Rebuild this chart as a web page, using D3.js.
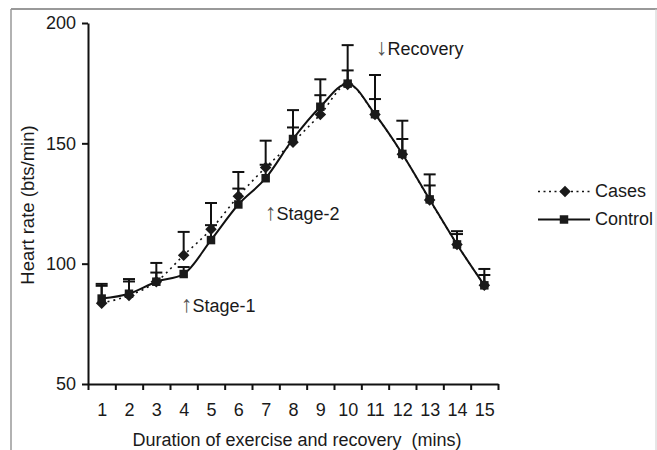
<!DOCTYPE html>
<html lang="en">
<head>
  <meta charset="UTF-8">
  <title>Heart rate during exercise and recovery</title>
  <style>
    body { margin: 0; background: #fff; }
    svg text { font-family: "Liberation Sans", Arial, sans-serif; font-size: 18px; fill: #1a1a1a; white-space: pre; }
    .axis path, .axis line { stroke: #111; stroke-width: 2px; }
    .arrow { font-size: 23px; fill: #555; }
  </style>
</head>
<body>
  <div id="chart"></div>

  <script src="https://d3js.org/d3.v7.min.js"></script>
  <script>
    // values
    const minutes = [1, 2, 3, 4, 5, 6, 7, 8, 9, 10, 11, 12, 13, 14, 15];
    const casesMean = [83.6, 86.8, 92.5, 103.5, 114.3, 128, 140, 150.5, 162, 174.5, 162, 145.5, 126.5, 108, 91];
    const casesSd = [8, 6.8, 7.8, 9.7, 10.9, 10.1, 11.1, 13.3, 14.6, 16.3, 16.4, 13.9, 10.6, 5.5, 6.8];
    const controlMean = [85.5, 87.5, 92.5, 95.7, 109.8, 124.6, 135.5, 151.8, 165.2, 174.8, 162.1, 145.6, 126.7, 108, 91];
    const controlSd = [5.3, 5.1, 3.8, 2.9, 6.2, 6.6, 5.6, 4.8, 4.8, 5.5, 6.3, 6.2, 5.8, 4.3, 4.3];
    const yTicks = [50, 100, 150, 200];
    const seriesNames = ["Cases", "Control"];

    const width = 657, height = 450;

    const svg = d3.select('#chart')
      .append('svg')
      .attr('width', width)
      .attr('height', height);

    // frame
    svg.append('line').attr('x1', 11).attr('x2', 657).attr('y1', 9).attr('y2', 9)
      .attr('stroke', '#777').attr('stroke-width', 1.5);
    svg.append('line').attr('x1', 11).attr('x2', 11).attr('y1', 9).attr('y2', 450)
      .attr('stroke', '#999').attr('stroke-width', 1.5);
    svg.append('line').attr('x1', 656).attr('x2', 656).attr('y1', 9).attr('y2', 450)
      .attr('stroke', '#ccc').attr('stroke-width', 1);

    const x = d3.scaleLinear().domain([0.5, 15.5]).range([88, 498]);
    const y = d3.scaleLinear().domain([50, 200]).range([384, 23]);

    const cases = minutes.map((m, i) => ({ m, v: casesMean[i], sd: casesSd[i] }));
    const control = minutes.map((m, i) => ({ m, v: controlMean[i], sd: controlSd[i] }));

    // axes
    svg.append('g')
      .attr('class', 'axis')
      .attr('transform', 'translate(88,0)')
      .call(d3.axisLeft(y).tickValues(yTicks).tickSize(6).tickSizeOuter(0).tickPadding(6))
      .selectAll('text').style('font-size', '18px');

    const boundaries = d3.range(0.5, 16, 1);
    svg.append('g')
      .attr('class', 'axis')
      .attr('transform', 'translate(0,384)')
      .call(d3.axisBottom(x).tickValues(boundaries).tickSize(6).tickSizeOuter(0).tickFormat(''));

    const xLabels = svg.append('g')
      .attr('transform', 'translate(0,384)')
      .call(d3.axisBottom(x).tickValues(minutes).tickSize(0).tickPadding(19).tickFormat(d3.format('d')));
    xLabels.select('.domain').remove();
    xLabels.selectAll('text').style('font-size', '18px').attr('fill', '#1a1a1a');

    svg.append('text')
      .attr('x', 297)
      .attr('y', 446)
      .attr('text-anchor', 'middle')
      .text('Duration of exercise and recovery  (mins)');

    svg.append('text')
      .attr('transform', 'translate(34,205) rotate(-90)')
      .attr('text-anchor', 'middle')
      .style('font-size', '18.5px')
      .text('Heart rate (bts/min)');

    // error bars (upper only)
    function errorBars(data) {
      const g = svg.append('g').attr('stroke', '#111').attr('stroke-width', 2);
      g.selectAll('line.v').data(data).join('line')
        .attr('x1', d => x(d.m)).attr('x2', d => x(d.m))
        .attr('y1', d => y(d.v)).attr('y2', d => y(d.v + d.sd));
      g.selectAll('line.c').data(data).join('line')
        .attr('x1', d => x(d.m) - 6).attr('x2', d => x(d.m) + 6)
        .attr('y1', d => y(d.v + d.sd)).attr('y2', d => y(d.v + d.sd));
    }
    errorBars(cases);
    errorBars(control);

    const line = d3.line().x(d => x(d.m)).y(d => y(d.v)).curve(d3.curveMonotoneX);

    svg.append('path').datum(cases)
      .attr('d', line)
      .attr('fill', 'none')
      .attr('stroke', '#111')
      .attr('stroke-width', 1.6)
      .attr('stroke-dasharray', '2,4');

    svg.append('path').datum(control)
      .attr('d', line)
      .attr('fill', 'none')
      .attr('stroke', '#111')
      .attr('stroke-width', 2);

    const diamond = d3.symbol().type(d3.symbolDiamond2).size(85);
    const square = d3.symbol().type(d3.symbolSquare).size(72);

    svg.selectAll('.diamond').data(cases).join('path')
      .attr('class', 'diamond')
      .attr('d', diamond)
      .attr('transform', d => `translate(${x(d.m)},${y(d.v)})`)
      .attr('fill', '#1a1a1a');

    svg.selectAll('.square').data(control).join('path')
      .attr('class', 'square')
      .attr('d', square)
      .attr('transform', d => `translate(${x(d.m)},${y(d.v)})`)
      .attr('fill', '#1a1a1a');

    // annotations
    function note(xp, yp, arrow, label) {
      const t = svg.append('text').attr('x', xp).attr('y', yp);
      t.append('tspan').attr('class', 'arrow').text(arrow);
      t.append('tspan').text(label);
    }
    note(181, 312, '\u2191', 'Stage-1');
    note(265, 220, '\u2191', 'Stage-2');
    note(376, 55, '\u2193', 'Recovery');

    // legend
    const legend = svg.append('g');
    legend.append('line').attr('x1', 538).attr('x2', 590).attr('y1', 191.5).attr('y2', 191.5)
      .attr('stroke', '#111').attr('stroke-width', 1.6).attr('stroke-dasharray', '2,3.5');
    legend.append('path').attr('d', diamond).attr('transform', 'translate(565,191.5)').attr('fill', '#1a1a1a');
    legend.append('text').attr('x', 595).attr('y', 197).text(seriesNames[0]);

    legend.append('line').attr('x1', 538).attr('x2', 590).attr('y1', 219.5).attr('y2', 219.5)
      .attr('stroke', '#111').attr('stroke-width', 2);
    legend.append('path').attr('d', square).attr('transform', 'translate(564,219.5)').attr('fill', '#1a1a1a');
    legend.append('text').attr('x', 595).attr('y', 225).text(seriesNames[1]);
  </script>
</body>
</html>
